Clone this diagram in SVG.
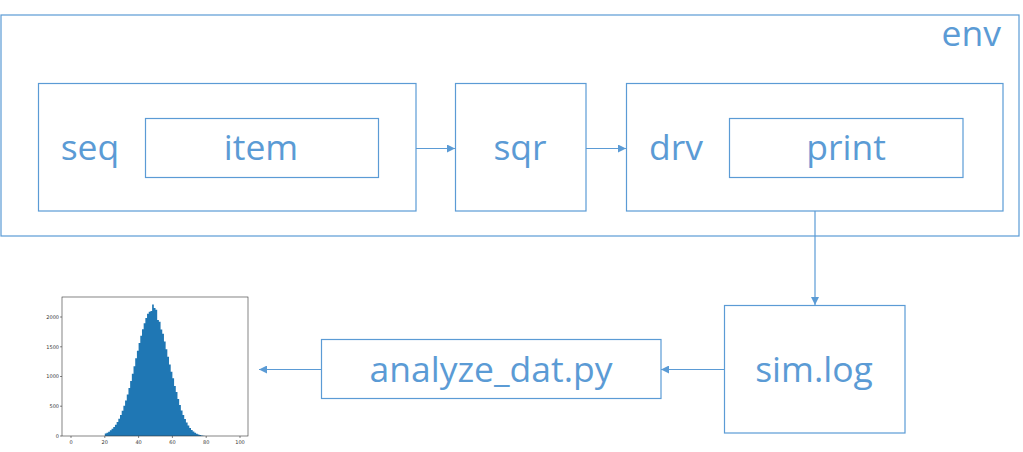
<svg xmlns="http://www.w3.org/2000/svg" width="1023" height="452" viewBox="0 0 1023 452">
<style>
.box{fill:none;stroke:#5B9BD5;stroke-width:1.2}
.lbl{font-family:"Open Sans","Noto Sans",sans-serif;font-size:35.5px;fill:#5B9BD5;text-anchor:middle}
.con{stroke:#5B9BD5;stroke-width:1.2;fill:none}
.tk{font-family:"DejaVu Sans",sans-serif;font-size:5px;fill:#333}
.ax{stroke:#333;stroke-width:0.6;fill:none}
</style>
<defs>
<marker id="ah" viewBox="0 0 10 10" refX="10" refY="5" markerWidth="8" markerHeight="8" markerUnits="userSpaceOnUse" orient="auto">
<path d="M0,0 L10,5 L0,10 z" fill="#5B9BD5"/>
</marker>
</defs>
<rect width="1023" height="452" fill="#fff"/>
<g id="env"><rect class="box" x="1" y="15" width="1018" height="221"/><text class="lbl" x="1001" y="46" style="text-anchor:end">env</text></g>
<g id="seq"><rect class="box" x="38.5" y="83.5" width="377.5" height="127.5"/><text class="lbl" x="90" y="160">seq</text></g>
<g id="item"><rect class="box" x="145.5" y="118.5" width="233" height="59"/><text class="lbl" x="261" y="160">item</text></g>
<g id="sqr"><rect class="box" x="455.5" y="83.5" width="130.5" height="127.5"/><text class="lbl" x="520" y="160">sqr</text></g>
<g id="drv"><rect class="box" x="626.5" y="83.5" width="376.5" height="127.5"/><text class="lbl" x="676" y="160">drv</text></g>
<g id="print"><rect class="box" x="729.5" y="118.5" width="233.5" height="59"/><text class="lbl" x="846" y="160">print</text></g>
<g id="simlog"><rect class="box" x="724.5" y="305.5" width="180.5" height="127.5"/><text class="lbl" x="814" y="382">sim.log</text></g>
<g id="analyze"><rect class="box" x="321.5" y="339.5" width="339.5" height="59"/><text class="lbl" x="491" y="382">analyze_dat.py</text></g>
<g id="connectors">
<line class="con" x1="416" y1="148.5" x2="455" y2="148.5" marker-end="url(#ah)"/>
<line class="con" x1="586" y1="148.5" x2="626" y2="148.5" marker-end="url(#ah)"/>
<line class="con" x1="815" y1="211" x2="815" y2="305" marker-end="url(#ah)"/>
<line class="con" x1="724" y1="369.5" x2="661" y2="369.5" marker-end="url(#ah)"/>
<line class="con" x1="321" y1="369.5" x2="259" y2="369.5" marker-end="url(#ah)"/>
</g>
<g id="histogram">
<g transform="translate(71,436) scale(1.69,-0.0595)">
<path fill="#1F77B4" d="M20,0 V43 H21 V56 H22 V73 H23 V95 H24 V120 H25 V153 H26 V191 H27 V237 H28 V290 H29 V353 H30 V426 H31 V507 H32 V598 H33 V699 H34 V806 H35 V925 H36 V1047 H37 V1174 H38 V1305 H39 V1434 H40 V1561 H41 V1683 H42 V1795 H43 V1896 H44 V1984 H45 V2055 H46 V2090 H47 V2100 H48 V2210 H49 V2150 H50 V2120 H51 V1950 H52 V1920 H53 V1790 H54 V1720 H55 V1590 H56 V1460 H57 V1330 H58 V1200 H59 V1080 H60 V970 H61 V840 H62 V740 H63 V620 H64 V520 H65 V430 H66 V355 H67 V285 H68 V225 H69 V175 H70 V135 H71 V100 H72 V75 H73 V55 H74 V38 H75 V26 H76 V17 H77 V10 H78 V5 H79 V0 Z"/>
</g>
<rect class="ax" x="62" y="297" width="186" height="139"/>
<path class="ax" d="M62,436 h-2 M62,406.2 h-2 M62,376.5 h-2 M62,346.8 h-2 M62,317 h-2 M71,436 v2 M104.8,436 v2 M138.6,436 v2 M172.4,436 v2 M206.2,436 v2 M240,436 v2"/>
<g class="tk" text-anchor="end">
<text x="59" y="437.7">0</text>
<text x="59" y="407.9">500</text>
<text x="59" y="378.2">1000</text>
<text x="59" y="348.5">1500</text>
<text x="59" y="318.7">2000</text>
</g>
<g class="tk" text-anchor="middle">
<text x="71" y="443.5">0</text>
<text x="104.8" y="443.5">20</text>
<text x="138.6" y="443.5">40</text>
<text x="172.4" y="443.5">60</text>
<text x="206.2" y="443.5">80</text>
<text x="240" y="443.5">100</text>
</g>
</g>
</svg>
